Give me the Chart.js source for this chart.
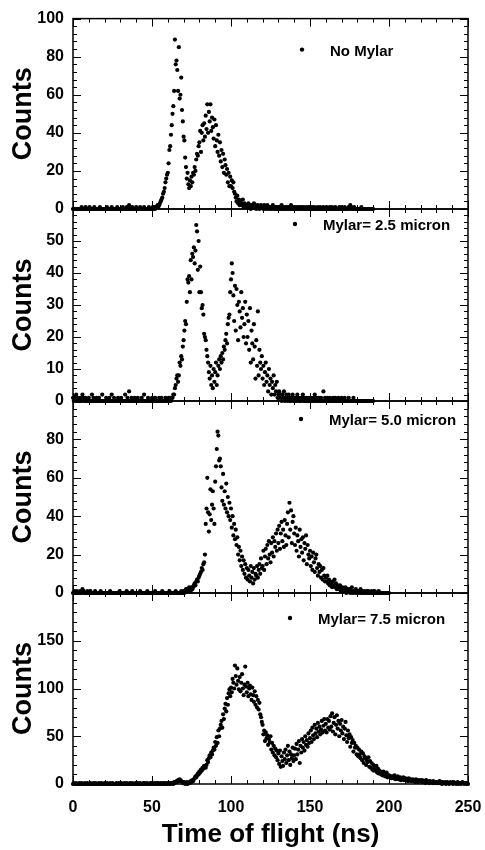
<!DOCTYPE html>
<html>
<head>
<meta charset="utf-8">
<title>Time of flight spectra</title>
<script src="https://cdn.jsdelivr.net/npm/chart.js@4.4.1/dist/chart.umd.min.js"></script>
<style>
  body { margin: 0; background: #fff; }
  #wrap { position: relative; width: 485px; height: 850px; overflow: hidden; }
  #wrap canvas { position: absolute; left: 0; }
</style>
</head>
<body>
<div id="wrap">
  <canvas id="noMylar"></canvas>
  <canvas id="mylar25"></canvas>
  <canvas id="mylar50"></canvas>
  <canvas id="mylar75"></canvas>
</div>
<script>
// channel width of the spectra (ns), counts start at t = 0
const binWidth = 0.5;

const noMylarCounts = [
  0,0,0,0,0,0,0,0,0,0,0,1,0,0,0,0,1,0,0,0,
  0,1,0,0,0,0,0,1,0,0,0,0,0,0,1,0,0,0,0,0,
  0,0,0,1,0,0,0,0,0,1,0,0,0,0,0,0,1,0,0,0,
  0,0,0,1,0,0,0,0,1,0,0,2,0,0,0,1,0,0,0,0,
  1,0,0,0,0,1,0,0,0,0,1,0,0,0,0,0,1,0,0,0,
  0,1,0,1,0,1,1,2,1,2,3,4,5,6,8,9,11,14,16,18,
  19,24,31,33,39,44,50,54,62,89,76,78,73,62,85,58,60,69,52,46,
  38,36,27,22,16,19,13,11,15,12,17,14,19,18,22,20,26,29,28,33,
  35,41,30,40,44,36,45,38,49,42,55,40,51,46,55,41,48,43,37,47,
  33,44,36,30,39,28,35,25,31,22,29,19,26,23,18,21,14,19,12,17,
  12,15,11,14,9,8,6,4,7,3,5,2,4,3,2,5,1,3,2,1,
  2,1,3,1,2,0,1,2,1,3,1,2,0,1,2,1,0,1,2,1,
  1,0,2,1,0,1,2,0,1,1,0,1,0,2,1,0,1,0,1,0,
  1,0,1,0,2,0,1,0,0,1,0,1,0,1,0,0,2,0,1,0,
  0,1,0,0,1,0,0,1,0,1,0,0,1,0,0,1,0,0,1,0,
  1,0,0,1,0,0,1,0,0,0,1,0,0,1,0,0,0,1,0,0,
  0,1,0,0,0,1,0,0,1,0,0,0,1,0,0,0,0,1,0,0,
  1,0,0,0,1,0,0,0,0,1,0,2,1,0,0,0,1,0,0,0,
  0,0,0,0,0,1,0,0,0,0,0,0,0,0,0,0,0,0,0,0,
  0
];

const mylar25Counts = [
  1,0,1,0,2,0,1,0,0,1,0,0,2,1,0,0,1,0,0,0,
  1,0,0,0,2,0,1,0,0,0,1,0,0,1,0,0,0,2,0,0,
  0,0,1,0,0,0,1,0,0,2,0,0,1,0,0,0,0,1,0,0,
  0,1,0,0,0,0,2,0,0,1,0,3,0,0,1,0,0,0,1,0,
  0,0,1,0,0,0,0,1,0,0,2,0,0,0,0,1,0,0,0,0,
  1,0,0,0,1,0,0,0,0,1,0,0,1,0,0,0,0,1,0,0,
  0,1,0,1,0,1,1,2,2,4,5,7,8,6,8,12,11,14,13,17,
  19,22,25,24,31,38,37,39,34,44,38,46,45,48,43,47,55,53,41,50,
  34,42,34,29,30,27,21,20,19,16,14,12,9,7,11,5,8,4,10,6,
  9,12,5,8,11,13,10,14,12,15,13,17,16,19,21,18,24,26,27,34,
  38,43,40,33,25,36,22,35,30,19,31,28,23,34,26,29,20,24,31,18,
  27,20,25,16,29,12,22,18,13,24,17,7,19,11,28,8,16,12,10,14,
  7,11,5,9,12,6,8,3,10,5,7,2,6,4,8,2,5,3,6,1,
  2,3,1,2,0,2,1,3,0,1,2,0,1,2,0,1,0,1,2,0,
  1,0,1,0,2,1,0,0,1,0,1,2,0,1,0,0,1,0,0,1,
  0,1,0,0,1,0,2,0,1,0,0,1,0,0,1,0,0,3,0,1,
  0,0,1,0,0,1,0,0,0,1,0,0,1,0,0,0,1,0,0,0,
  1,0,0,0,1,0,0,0,0,1,0,0,0,0,0,1,0,0,0,0,
  0,0,0,0,0,0,0,0,0,0,0,0,0,0,0,0,0,0,0,0,
  0
];

const mylar50Counts = [
  0,0,1,0,0,1,0,0,0,1,0,0,2,1,0,0,0,0,1,0,
  0,0,1,0,0,0,0,0,1,0,0,0,0,0,0,1,0,0,0,0,
  0,0,0,0,0,0,0,1,0,0,0,0,0,0,0,0,0,0,0,1,
  0,0,0,0,0,0,0,0,1,0,0,0,0,0,0,1,0,0,0,0,
  0,0,0,0,0,1,0,0,0,0,0,0,0,0,1,0,0,0,0,0,
  0,0,0,0,1,0,0,0,0,0,0,0,0,1,0,0,0,0,0,0,
  0,0,1,0,0,0,0,0,0,0,1,0,0,0,0,0,0,1,0,0,
  1,0,1,2,1,2,1,3,2,1,3,2,3,4,5,4,6,7,6,8,
  9,10,11,13,12,15,16,20,36,44,60,42,32,41,54,38,46,53,44,36,
  58,66,75,84,82,69,70,66,55,48,62,46,53,44,57,42,50,40,47,38,
  44,34,40,30,36,28,33,25,29,20,24,17,22,14,19,12,17,10,15,8,
  13,7,12,9,6,14,8,11,5,13,7,10,9,14,8,12,15,10,18,13,
  14,22,12,19,23,15,25,18,27,20,16,26,21,29,19,27,24,31,22,33,
  26,35,23,31,37,27,33,24,38,30,25,36,42,29,47,33,43,26,37,40,
  31,25,34,22,30,27,19,33,24,28,21,29,17,26,23,30,15,25,20,18,
  22,14,19,12,21,16,11,18,20,13,9,15,11,14,8,12,7,13,9,6,
  8,6,9,5,7,4,6,5,3,6,4,7,3,5,2,4,3,2,4,1,
  2,3,1,2,1,3,0,2,1,1,2,0,1,3,0,1,1,0,2,1,
  0,1,1,0,2,0,1,0,0,1,0,0,1,0,1,0,0,0,1,0,
  0,0,1,0,0,0,0,1,0,0,0,0,0,0,0,0,0,0,0,0,
  0
];

const mylar75Counts = [
  0,1,0,0,1,0,0,0,1,0,0,1,0,0,0,1,0,0,1,0,
  0,0,1,0,0,0,1,0,0,1,0,0,0,1,0,0,1,0,0,0,
  1,0,0,1,0,0,0,1,0,0,1,0,0,0,0,1,0,0,1,0,
  0,1,0,0,0,1,0,0,1,0,0,0,1,0,0,1,0,0,0,1,
  0,0,1,0,0,1,0,0,0,1,0,1,0,0,1,0,0,0,1,0,
  1,0,0,1,0,0,1,0,1,0,0,1,0,0,1,0,1,0,0,1,
  0,1,0,1,0,1,1,0,2,1,2,3,2,4,3,5,4,3,2,1,
  2,1,0,1,2,0,1,2,1,3,2,4,3,5,6,8,7,9,11,10,
  13,12,15,14,17,16,19,18,17,20,25,23,27,30,28,33,31,35,38,36,
  44,40,49,43,56,50,58,62,66,59,73,68,79,84,76,90,83,95,99,92,
  101,96,110,106,100,124,113,104,121,108,99,112,97,106,115,100,93,104,123,102,
  96,106,92,100,103,94,88,101,93,86,97,83,92,80,88,78,85,73,70,65,
  62,52,56,45,54,48,51,41,47,44,50,36,43,33,40,30,37,28,35,25,
  32,21,35,18,29,24,19,33,26,36,22,30,40,25,34,20,31,27,38,24,
  30,37,26,42,31,36,45,22,40,33,47,38,44,35,50,41,46,39,53,43,
  48,56,44,59,51,47,62,53,58,49,64,55,60,52,57,66,54,61,68,56,
  63,54,68,59,66,57,71,60,74,55,64,70,52,62,72,58,66,50,63,56,
  67,53,60,47,58,65,51,44,56,48,52,39,49,43,46,34,43,38,40,31,
  38,29,36,31,27,34,25,32,22,29,27,20,25,23,28,18,24,17,22,15,
  20,14,17,15,19,12,16,11,14,13,10,12,9,13,11,8,10,12,7,9,
  9,7,8,6,8,7,6,9,5,7,6,8,5,6,7,4,6,5,7,4,
  5,6,4,5,3,6,4,5,3,4,5,3,4,2,5,3,4,2,3,4,
  3,2,4,3,2,3,1,4,2,3,2,1,3,2,2,1,3,2,1,2,
  2,1,2,1,3,1,2,0,2,1,1,2,0,1,2,1,0,1,2,1,
  1,0,2,1,1,0,1,2,0,1,1,0,1,2,1,0,1,1,0,1,
  0
];

const panelLabels = ["No Mylar", "Mylar= 2.5 micron", "Mylar= 5.0 micron", "Mylar= 7.5 micron"];
const yMaxima = [100, 60, 100, 200];
const yMajorSteps = [20, 10, 20, 50];
const yMinorSteps = [4, 2, 4, 10];
const xTickStep = 50;

// canvas placement: each canvas overlaps its neighbours so edge labels are not cut
const layout = [
  { id: "noMylar", top: 0, height: 229, padTop: 17, legendX: 302, legendDy: 31 },
  { id: "mylar25", top: 189, height: 232, padTop: 20, legendX: 295, legendDy: 15 },
  { id: "mylar50", top: 381, height: 232, padTop: 20, legendX: 301, legendDy: 18 },
  { id: "mylar75", top: 573, height: 277, padTop: 20, legendX: 290, legendDy: 25 },
];
const allCounts = [noMylarCounts, mylar25Counts, mylar50Counts, mylar75Counts];

Chart.defaults.font.family = "'Liberation Sans', Arial, Helvetica, sans-serif";
Chart.defaults.font.weight = "bold";
Chart.defaults.color = "#000";

// frame with inward ticks on all four sides
const frameTicks = {
  id: "frameTicks",
  beforeDatasetsDraw(chart, args, opts) {
    const { ctx, chartArea: a, scales: { x, y } } = chart;
    ctx.save();
    ctx.strokeStyle = "#000";
    ctx.lineWidth = 1;
    ctx.beginPath();
    for (let v = 0; v <= x.max; v += 10) {
      const px = Math.round(x.getPixelForValue(v)) + 0.5;
      const len = v % xTickStep === 0 ? 8 : 4;
      ctx.moveTo(px, a.bottom); ctx.lineTo(px, a.bottom - len);
      ctx.moveTo(px, a.top); ctx.lineTo(px, a.top + len);
    }
    for (let v = 0; v <= y.max; v += opts.minor) {
      const py = Math.round(y.getPixelForValue(v)) + 0.5;
      const len = v % opts.major === 0 ? 8 : 4;
      ctx.moveTo(a.left, py); ctx.lineTo(a.left + len, py);
      ctx.moveTo(a.right, py); ctx.lineTo(a.right - len, py);
    }
    ctx.stroke();
    ctx.lineWidth = 1.5;
    ctx.strokeRect(a.left, a.top, a.right - a.left, a.bottom - a.top);
    ctx.restore();
  },
};

// small legend inside the top right of each panel
const cornerLegend = {
  id: "cornerLegend",
  afterDraw(chart, args, opts) {
    const { ctx, chartArea } = chart;
    const y = chartArea.top + opts.dy;
    ctx.save();
    ctx.fillStyle = "#000";
    ctx.beginPath();
    ctx.arc(opts.x, y, 2.2, 0, Math.PI * 2);
    ctx.fill();
    ctx.font = "bold 15px 'Liberation Sans', Arial, sans-serif";
    ctx.textBaseline = "middle";
    ctx.fillText(chart.data.datasets[0].label, opts.x + 28, y + 2);
    ctx.restore();
  },
};

layout.forEach((box, i) => {
  const last = i === layout.length - 1;
  const yMax = yMaxima[i];
  const canvas = document.getElementById(box.id);
  canvas.width = 485;
  canvas.height = box.height;
  canvas.style.top = box.top + "px";

  new Chart(canvas, {
    type: "scatter",
    data: {
      datasets: [
        {
          label: panelLabels[i],
          data: allCounts[i].map((c, k) => ({ x: k * binWidth, y: c })),
          pointRadius: 2.1,
          pointBackgroundColor: "#000",
          pointBorderWidth: 0,
          clip: false,
        },
      ],
    },
    options: {
      responsive: false,
      animation: false,
      events: [],
      layout: { padding: { top: box.padTop, bottom: last ? 0 : 20, left: 0, right: 17 } },
      plugins: {
        legend: { display: false },
        tooltip: { enabled: false },
        frameTicks: { major: yMajorSteps[i], minor: yMinorSteps[i] },
        cornerLegend: { x: box.legendX, dy: box.legendDy },
      },
      scales: {
        x: {
          type: "linear",
          min: 0,
          max: 250,
          display: last,
          grid: { display: false, drawTicks: false },
          border: { display: false },
          ticks: { stepSize: xTickStep, font: { size: 16 }, padding: 14, maxRotation: 0 },
          title: {
            display: true,
            text: "Time of flight (ns)",
            font: { size: 26 },
            padding: { top: 0, bottom: 0 },
          },
          afterFit: (scale) => {
            if (!last) return;
            scale.height = 66;
            scale.paddingLeft = 0;
            scale.paddingRight = 0;
          },
        },
        y: {
          min: 0,
          max: yMax,
          grid: { display: false, drawTicks: false },
          border: { display: false },
          ticks: {
            stepSize: yMajorSteps[i],
            font: { size: 16 },
            padding: 9,
            callback: (v) => (v === yMax && i > 0 ? "" : v),
          },
          title: { display: true, text: "Counts", font: { size: 27 }, padding: { top: 7, bottom: 0 } },
          afterFit: (scale) => { scale.width = 73; },
        },
      },
    },
    plugins: [frameTicks, cornerLegend],
  });
});
</script>
</body>
</html>
